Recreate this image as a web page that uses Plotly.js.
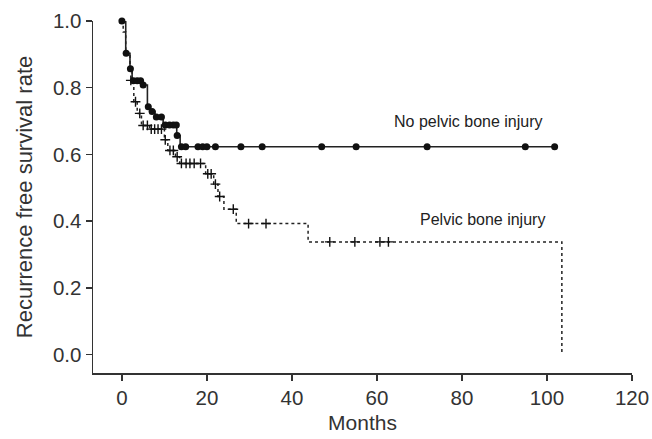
<!DOCTYPE html>
<html>
<head>
<meta charset="utf-8">
<script src="https://cdn.plot.ly/plotly-3.0.1.min.js"></script>
<style>html,body{margin:0;padding:0;background:#fff;}#chart{width:652px;height:439px;}</style>
</head>
<body>
<div id="chart"></div>
<script>
// No pelvic bone injury: step curve (event times / survival)
var noInjTime = [0, 0.9, 1.9, 2.4, 4.8, 6.0, 6.7, 7.8, 9.7, 12.9, 13.7, 101.8];
var noInjSurv = [1.0, 0.903, 0.857, 0.821, 0.808, 0.743, 0.729, 0.712, 0.688, 0.657, 0.623, 0.623];
// No pelvic bone injury: censor marks
var noInjCensTime = [0, 1.0, 2.0, 2.7, 3.6, 4.4, 5.0, 6.2, 7.1, 8.1, 9.3, 10.2, 11.2, 12.1, 12.8, 13.0,
  14.0, 15.0, 17.9, 19.0, 20.0, 22.0, 28.0, 33.0, 47.0, 55.1, 71.8, 94.9, 101.8];
var noInjCensSurv = [1.0, 0.903, 0.857, 0.821, 0.821, 0.821, 0.808, 0.743, 0.729, 0.712, 0.712, 0.688, 0.688, 0.688, 0.688, 0.657,
  0.623, 0.623, 0.623, 0.623, 0.623, 0.623, 0.623, 0.623, 0.623, 0.623, 0.623, 0.623, 0.623];

// Pelvic bone injury: step curve
var injTime = [0, 0.3, 0.9, 1.9, 2.4, 2.8, 3.6, 4.6, 6.5, 10.0, 10.8, 12.6, 13.6, 19.7, 21.6, 22.6, 24.0, 26.9, 43.8, 103.5];
var injSurv = [1.0, 0.967, 0.903, 0.857, 0.822, 0.758, 0.723, 0.687, 0.676, 0.644, 0.612, 0.593, 0.573, 0.542, 0.511, 0.474, 0.436, 0.393, 0.338, 0.003];
// Pelvic bone injury: censor marks
var injCensTime = [2.1, 3.2, 4.2, 5.0, 6.0, 6.9, 7.7, 8.5, 9.3, 10.2, 11.3, 12.1, 13.0, 14.0, 15.1, 16.0, 17.0, 18.5,
  20.2, 21.0, 22.0, 23.0, 26.2, 29.8, 33.9, 48.9, 54.8, 60.7, 62.7];
var injCensSurv = [0.822, 0.758, 0.723, 0.687, 0.687, 0.676, 0.676, 0.676, 0.676, 0.644, 0.612, 0.612, 0.593, 0.573, 0.573, 0.573, 0.573, 0.573,
  0.542, 0.542, 0.511, 0.474, 0.436, 0.393, 0.393, 0.338, 0.338, 0.338, 0.338];

var xTicks = [0, 20, 40, 60, 80, 100, 120];
var yTicks = [0.0, 0.2, 0.4, 0.6, 0.8, 1.0];
var groupLabels = ["No pelvic bone injury", "Pelvic bone injury"];

var FONT = "Liberation Sans, Arial, Helvetica, sans-serif";

var traces = [
  {x: injTime, y: injSurv, type: "scatter", mode: "lines", line: {shape: "hv", color: "#222", width: 1.5, dash: "dot"},
   hoverinfo: "skip", cliponaxis: false},
  {x: injCensTime, y: injCensSurv, type: "scatter", mode: "markers",
   marker: {symbol: "cross-thin-open", size: 7, color: "#111", line: {color: "#111", width: 1.4}}, cliponaxis: false},
  {x: noInjTime, y: noInjSurv, type: "scatter", mode: "lines", line: {shape: "hv", color: "#222", width: 1.6},
   hoverinfo: "skip", cliponaxis: false},
  {x: noInjCensTime, y: noInjCensSurv, type: "scatter", mode: "markers",
   marker: {symbol: "circle", size: 7, color: "#111"}, cliponaxis: false}
];

var layout = {
  width: 652, height: 439,
  margin: {l: 93, r: 20, t: 21, b: 66},
  paper_bgcolor: "#fff", plot_bgcolor: "#fff",
  showlegend: false,
  font: {family: FONT, color: "#333"},
  xaxis: {
    range: [-6.8, 120], tickvals: xTicks, ticktext: xTicks.map(String),
    showgrid: false, zeroline: false, showline: true, linecolor: "#333", linewidth: 1.5,
    ticks: "outside", ticklen: 6, tickwidth: 1.5, tickcolor: "#333",
    tickfont: {size: 20.5, family: FONT, color: "#333"},
    title: {text: "Months", font: {size: 21, family: FONT, color: "#333"}, standoff: 7}
  },
  yaxis: {
    range: [-0.055, 1.0], tickvals: yTicks, ticktext: yTicks.map(function(v){return v.toFixed(1);}),
    showgrid: false, zeroline: false, showline: true, linecolor: "#333", linewidth: 1.5,
    ticks: "outside", ticklen: 6, tickwidth: 1.5, tickcolor: "#333",
    tickfont: {size: 20.5, family: FONT, color: "#333"},
    title: {text: "Recurrence free survival rate", font: {size: 22, family: FONT, color: "#333"}, standoff: 14}
  },
  annotations: [
    {x: 99.6, y: 0.70, xref: "x", yref: "y", text: groupLabels[0], showarrow: false, xanchor: "right", yanchor: "middle",
     font: {size: 16, family: FONT, color: "#222"}},
    {x: 100, y: 0.405, xref: "x", yref: "y", text: groupLabels[1], showarrow: false, xanchor: "right", yanchor: "middle",
     font: {size: 16, family: FONT, color: "#222"}}
  ]
};

Plotly.newPlot("chart", traces, layout, {staticPlot: true, displayModeBar: false});
</script>
</body>
</html>
